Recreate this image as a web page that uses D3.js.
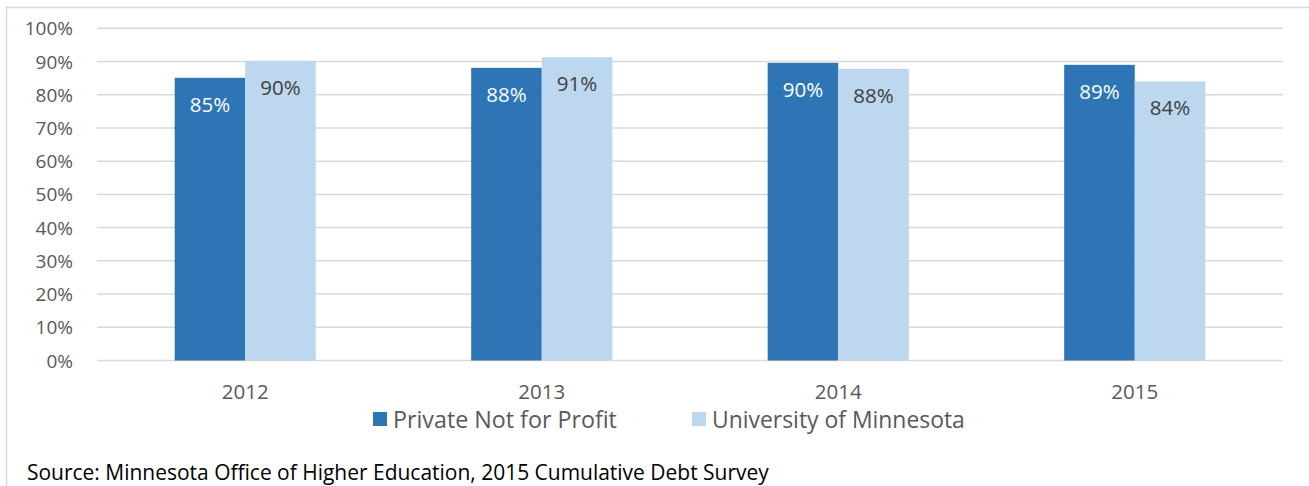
<!DOCTYPE html>
<html>
<head>
<meta charset="utf-8">
<script src="https://cdn.jsdelivr.net/npm/d3@7"></script>
<style>
  body { margin: 0; background: #fff; }
  text { font-family: "Open Sans", sans-serif; }
</style>
</head>
<body>
<div id="chart"></div>
<script>
const years = ['2012', '2013', '2014', '2015'];
const seriesNames = ['Private Not for Profit', 'University of Minnesota'];
const privateVals = [85.1, 88.1, 89.6, 89.0];
const umnVals = [90.2, 91.3, 87.8, 84.0];
const yTicks = [0, 10, 20, 30, 40, 50, 60, 70, 80, 90, 100];
const colors = ['#2E75B6', '#BDD7EE'];
const sourceText = 'Source: Minnesota Office of Higher Education, 2015 Cumulative Debt Survey';

const W = 1309, H = 486;
const svg = d3.select('#chart').append('svg')
  .attr('width', W)
  .attr('height', H);

// outer frame (right/bottom edges fall outside the picture)
svg.append('rect')
  .attr('x', 6.5).attr('y', 7.5)
  .attr('width', W + 10).attr('height', H + 10)
  .attr('fill', 'none')
  .attr('stroke', '#D9D9D9')
  .attr('stroke-width', 1.5);

const plotL = 97, plotR = 1283, plotT = 28.3, plotB = 360.5;

const x = d3.scaleBand().domain(years).range([plotL, plotR]);
const bw = x.bandwidth() * 0.238;
const y = d3.scaleLinear().domain([0, 100]).range([plotB, plotT]);

// gridlines
svg.append('g').selectAll('line')
  .data(yTicks)
  .join('line')
  .attr('x1', plotL).attr('x2', plotR)
  .attr('y1', d => y(d)).attr('y2', d => y(d))
  .attr('stroke', '#D9D9D9')
  .attr('stroke-width', 1.5);

// y axis labels
svg.append('g').selectAll('text')
  .data(yTicks)
  .join('text')
  .attr('x', 73)
  .attr('y', d => y(d) + 7)
  .attr('text-anchor', 'end')
  .attr('font-size', 19)
  .attr('fill', '#595959')
  .text(d => d + '%');

const data = years.map((yr, i) => ({ yr, vals: [privateVals[i], umnVals[i]] }));

const group = svg.append('g').selectAll('g')
  .data(data)
  .join('g')
  .attr('transform', d => `translate(${x(d.yr) + x.bandwidth() / 2},0)`);

group.selectAll('rect')
  .data(d => d.vals.map((v, s) => ({ v, s })))
  .join('rect')
  .attr('x', d => d.s === 0 ? -bw : 0)
  .attr('width', bw)
  .attr('y', d => y(d.v))
  .attr('height', d => y(0) - y(d.v))
  .attr('fill', d => colors[d.s]);

group.selectAll('text')
  .data(d => d.vals.map((v, s) => ({ v, s })))
  .join('text')
  .attr('x', d => d.s === 0 ? -bw / 2 : bw / 2)
  .attr('y', d => y(d.v) + 34)
  .attr('text-anchor', 'middle')
  .attr('font-size', 20.5)
  .attr('fill', d => d.s === 0 ? '#ffffff' : '#404040')
  .text(d => Math.round(d.v) + '%');

// x axis labels
svg.append('g').selectAll('text')
  .data(years)
  .join('text')
  .attr('x', d => x(d) + x.bandwidth() / 2)
  .attr('y', 399)
  .attr('text-anchor', 'middle')
  .attr('font-size', 20.5)
  .attr('fill', '#595959')
  .text(d => d);

// legend
const legendX = [373, 692];
const legendW = [224, 253];
const leg = svg.append('g').selectAll('g')
  .data(seriesNames)
  .join('g')
  .attr('transform', (d, i) => `translate(${legendX[i]},0)`);
leg.append('rect')
  .attr('x', 0).attr('y', 412)
  .attr('width', 14).attr('height', 14)
  .attr('fill', (d, i) => colors[i]);
const legText = leg.append('text')
  .attr('x', 20).attr('y', 428)
  .attr('font-size', 21)
  .attr('fill', '#595959')
  .text(d => d);

// source note
const src = svg.append('text')
  .attr('x', 27).attr('y', 480)
  .attr('font-size', 19)
  .attr('fill', '#000')
  .text(sourceText);

// scale the font so the text spans the same width as in the original
function fit(node, target) {
  const sel = d3.select(node);
  const w = node.getComputedTextLength();
  const fs = +sel.attr('font-size');
  sel.attr('font-size', fs * target / w);
}
fit(src.node(), 742);
legText.nodes().forEach((n, i) => fit(n, legendW[i]));
</script>
</body>
</html>
